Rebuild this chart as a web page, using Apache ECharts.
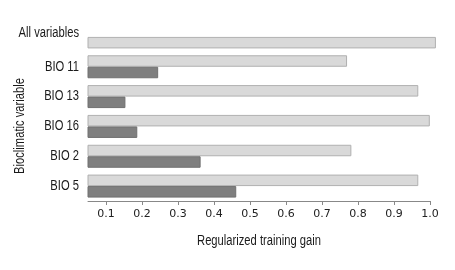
<!DOCTYPE html>
<html>
<head>
<meta charset="utf-8">
<script src="https://cdn.jsdelivr.net/npm/echarts@6/dist/echarts.min.js"></script>
<style>html,body{margin:0;padding:0;background:#fff}#c{width:455px;height:270px}</style>
</head>
<body>
<div id="c"></div>
<script>
const categories = ['All variables', 'BIO 11', 'BIO 13', 'BIO 16', 'BIO 2', 'BIO 5'];
const allVariablesGain = 1.017;
const withoutVariable = [null, 0.770, 0.968, 1.000, 0.782, 0.968];
const withOnlyVariable = [null, 0.245, 0.154, 0.187, 0.363, 0.462];
const tickValues = [0.1, 0.2, 0.3, 0.4, 0.5, 0.6, 0.7, 0.8, 0.9, 1.0];

const LIGHT = '#d9d9d9', LIGHT_B = '#b0b0b0', DARK = '#7f7f7f', DARK_B = '#707070';
const sans = '"Liberation Sans", Arial, sans-serif';
const SQUEEZE = 0.8;

const secondData = withOnlyVariable.map((v, i) => i === 0
  ? { value: allVariablesGain, itemStyle: { color: LIGHT, borderColor: LIGHT_B } }
  : v);

const chart = echarts.init(document.getElementById('c'), null, { renderer: 'canvas' });
chart.setOption({
  animation: false,
  backgroundColor: '#fff',
  grid: [
    { left: 88, right: 18, top: 22, bottom: 69 },
    { left: 88, right: 25, top: 22, bottom: 69 }
  ],
  xAxis: [
    { type: 'value', gridIndex: 0, min: 0.05, max: 1.02, show: false },
    {
      type: 'value', gridIndex: 1, min: 0.05, max: 1.0,
      axisLine: { show: true, lineStyle: { color: '#888', width: 1 } },
      axisTick: { show: true, length: 4, customValues: tickValues, lineStyle: { color: '#888' } },
      axisLabel: {
        customValues: tickValues, margin: 8,
        formatter: v => v.toFixed(1),
        fontFamily: '"DejaVu Sans", Verdana, sans-serif', fontSize: 11, color: '#222'
      },
      splitLine: { show: false }
    }
  ],
  yAxis: [
    {
      type: 'category', gridIndex: 0, inverse: true, data: categories,
      axisLine: { show: false }, axisTick: { show: false },
      axisLabel: { show: false }
    },
    { type: 'value', gridIndex: 1, show: false }
  ],
  series: [
    {
      type: 'bar', xAxisIndex: 0, yAxisIndex: 0, data: withoutVariable,
      barWidth: 11.5, barGap: '0%',
      itemStyle: { color: LIGHT, borderColor: LIGHT_B, borderWidth: 1 }
    },
    {
      type: 'bar', xAxisIndex: 0, yAxisIndex: 0, data: secondData,
      barWidth: 11.5, barGap: '0%',
      itemStyle: { color: DARK, borderColor: DARK_B, borderWidth: 1 }
    }
  ]
});

// Category labels and axis titles in a condensed look (horizontal squeeze),
// positioned through the library's own axis scale.
const labelRight = 79;
const graphics = categories.map((c, i) => {
  const y = chart.convertToPixel({ yAxisIndex: 0 }, c) - (i === 0 ? 4 : 0);
  return {
    type: 'text', x: labelRight, y: y, scaleX: SQUEEZE,
    style: { text: c, fontFamily: sans, fontSize: 14, fill: '#1a1a1a', align: 'right', verticalAlign: 'middle' }
  };
});
const xMid = (chart.convertToPixel({ xAxisIndex: 1 }, 0.05) + chart.convertToPixel({ xAxisIndex: 1 }, 1.0)) / 2;
graphics.push({
  type: 'text', x: xMid, y: 241, scaleX: SQUEEZE,
  style: { text: 'Regularized training gain', fontFamily: sans, fontSize: 14, fill: '#1a1a1a', align: 'center', verticalAlign: 'middle' }
});
graphics.push({
  type: 'text', x: 20, y: 126, rotation: Math.PI / 2, scaleX: SQUEEZE,
  style: { text: 'Bioclimatic variable', fontFamily: sans, fontSize: 14, fill: '#1a1a1a', align: 'center', verticalAlign: 'middle' }
});
chart.setOption({ graphic: graphics });
</script>
</body>
</html>
